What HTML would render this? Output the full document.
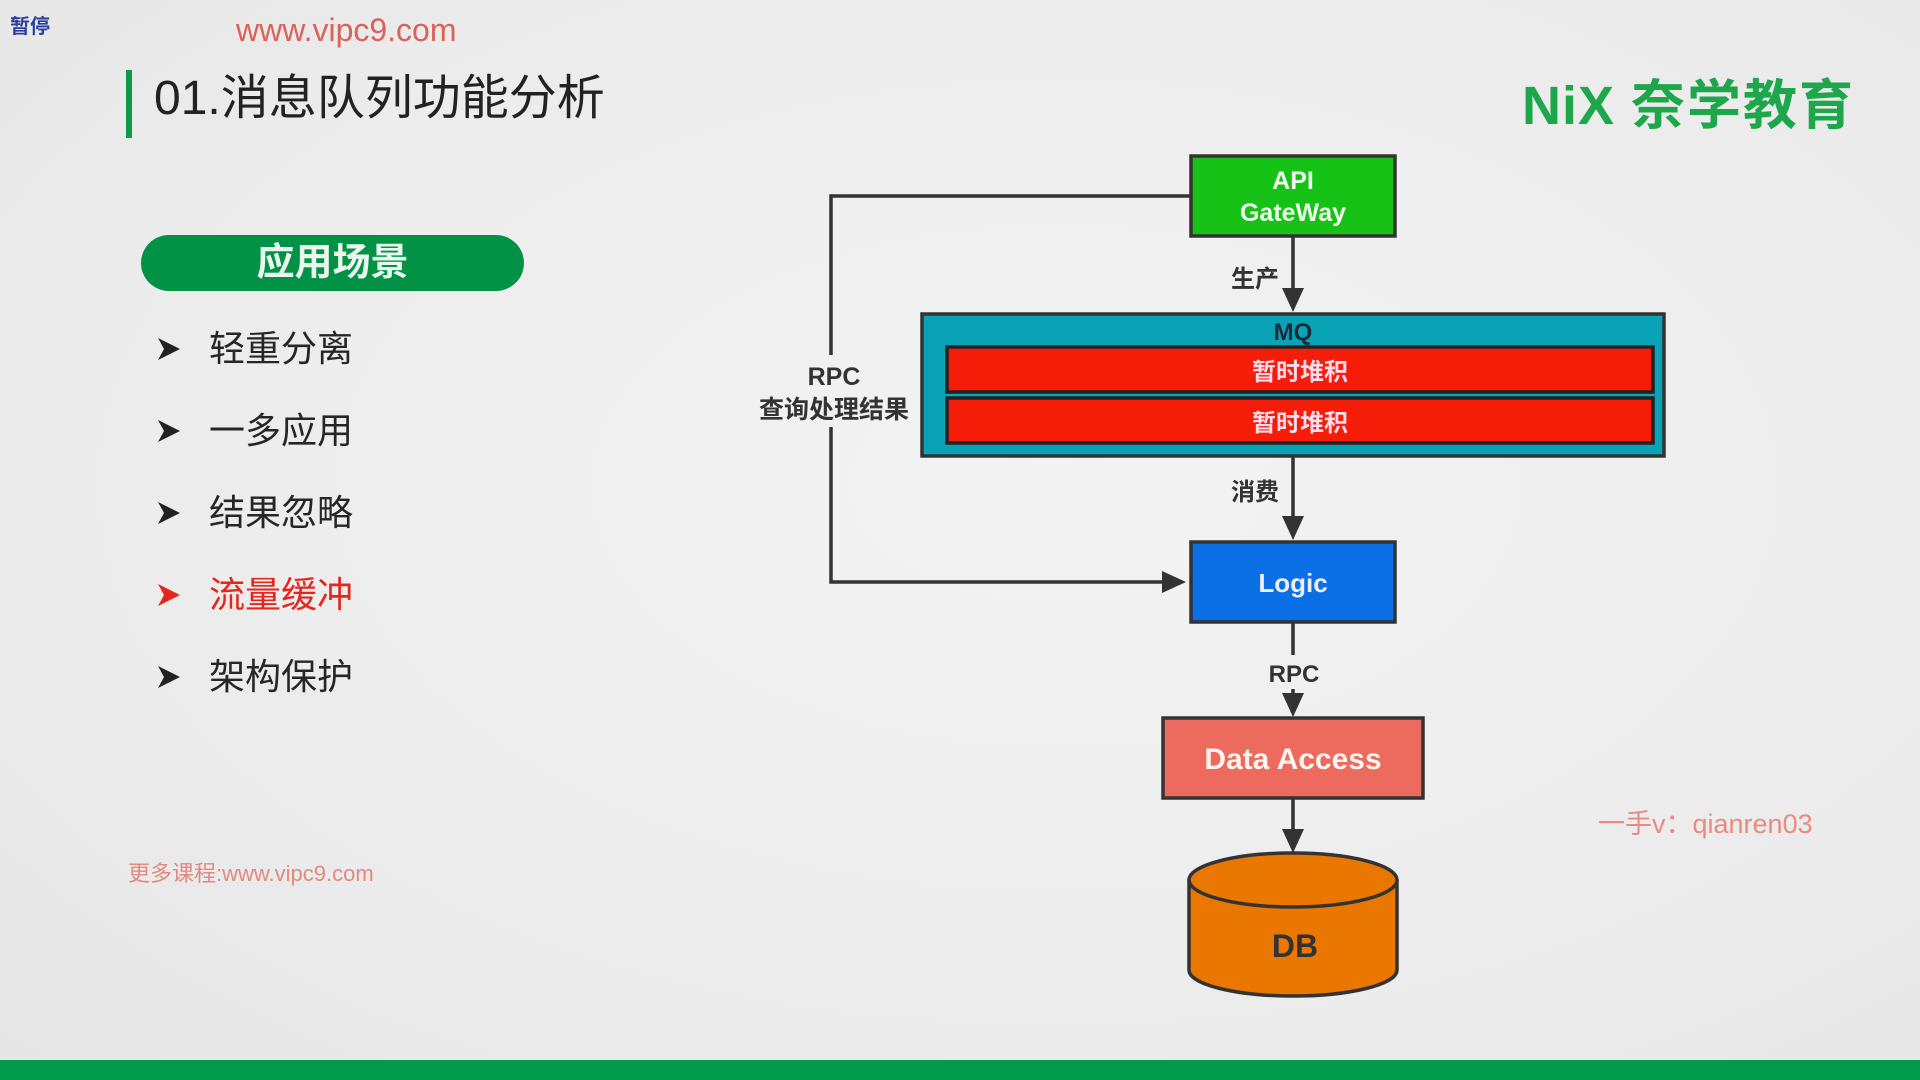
<!DOCTYPE html>
<html><head><meta charset="utf-8"><style>
html,body{margin:0;padding:0;}
body{width:1920px;height:1080px;position:relative;overflow:hidden;background:radial-gradient(ellipse at 55% 45%,#f3f3f3 0%,#ececec 60%,#e6e6e6 100%);font-family:"Liberation Sans","Noto Sans CJK SC",sans-serif;}
.a{position:absolute;white-space:nowrap;}
.li{font-size:36px;color:#262626;left:209px;line-height:40px;}
.ar{left:156px;width:26px;height:26px;}
</style></head><body>
<div class="a" style="left:10px;top:10px;font-size:20px;font-weight:bold;color:#2a3ea0;">暂停</div>
<div class="a" style="left:236px;top:12px;font-size:32px;color:#d9625a;">www.vipc9.com</div>
<div class="a" style="left:126px;top:70px;width:6px;height:68px;background:#0e9a4a;"></div>
<div class="a" style="left:154px;top:71px;font-size:48px;color:#222;line-height:56px;">01.消息队列功能分析</div>
<div class="a" style="left:1522px;top:76px;font-size:54px;font-weight:bold;color:#1ea74a;line-height:60px;letter-spacing:1px;">NiX <span style="letter-spacing:2px">奈学教育</span></div>
<div class="a" style="left:141px;top:235px;width:383px;height:56px;border-radius:28px;background:#019245;color:#eaf7ee;font-size:38px;font-weight:bold;text-align:center;line-height:56px;">应用场景</div>

<svg class="a ar" style="top:336px" viewBox="0 0 26 26"><path d="M2 2 L24 13 L2 24 L8 13Z" fill="#222"/></svg>
<div class="a li" style="top:329px">轻重分离</div>
<svg class="a ar" style="top:418px" viewBox="0 0 26 26"><path d="M2 2 L24 13 L2 24 L8 13Z" fill="#222"/></svg>
<div class="a li" style="top:411px">一多应用</div>
<svg class="a ar" style="top:500px" viewBox="0 0 26 26"><path d="M2 2 L24 13 L2 24 L8 13Z" fill="#222"/></svg>
<div class="a li" style="top:493px">结果忽略</div>
<svg class="a ar" style="top:582px" viewBox="0 0 26 26"><path d="M2 2 L24 13 L2 24 L8 13Z" fill="#e5261c"/></svg>
<div class="a li" style="top:575px;color:#e5261c">流量缓冲</div>
<svg class="a ar" style="top:664px" viewBox="0 0 26 26"><path d="M2 2 L24 13 L2 24 L8 13Z" fill="#222"/></svg>
<div class="a li" style="top:657px">架构保护</div>

<div class="a" style="left:128px;top:856px;font-size:22px;color:#e08a80;">更多课程:www.vipc9.com</div>
<div class="a" style="left:1598px;top:802px;font-size:27px;color:#ea8a80;">一手v：qianren03</div>
<div class="a" style="left:0;top:1060px;width:1920px;height:20px;background:#019c4b;"></div>

<svg class="a" style="left:0;top:0" width="1920" height="1080" font-family="Liberation Sans, Noto Sans CJK SC, sans-serif" font-weight="bold">
<g stroke="#333" stroke-width="3.5" fill="none">
<path d="M1191 196 H831 V355 M831 427 V582 H1170"/>
<path d="M1293 236 V292"/>
<path d="M1293 457 V520"/>
<path d="M1293 622 V655 M1293 689 V697"/>
<path d="M1293 798 V833"/>
</g>
<g fill="#333">
<path d="M1186 582 L1162 571 L1162 593Z"/>
<path d="M1293 312 L1282 288 L1304 288Z"/>
<path d="M1293 540 L1282 516 L1304 516Z"/>
<path d="M1293 717 L1282 693 L1304 693Z"/>
<path d="M1293 853 L1282 829 L1304 829Z"/>
</g>
<text x="834" y="385" font-size="25" text-anchor="middle" fill="#333">RPC</text>
<text x="834" y="418" font-size="25" text-anchor="middle" fill="#333">查询处理结果</text>
<text x="1255" y="287" font-size="24" text-anchor="middle" fill="#333">生产</text>
<text x="1255" y="500" font-size="24" text-anchor="middle" fill="#333">消费</text>
<text x="1294" y="682" font-size="24" text-anchor="middle" fill="#333">RPC</text>

<rect x="1191" y="156" width="204" height="80" fill="#16c216" stroke="#333" stroke-width="3.5"/>
<text x="1293" y="189" font-size="25" text-anchor="middle" fill="#f0fff0">API</text>
<text x="1293" y="221" font-size="25" text-anchor="middle" fill="#f0fff0">GateWay</text>

<rect x="922" y="314" width="742" height="142" fill="#0aa3b5" stroke="#333" stroke-width="3.5"/>
<text x="1293" y="340" font-size="24" text-anchor="middle" fill="#1a2a3a">MQ</text>
<rect x="947" y="347" width="706" height="45" fill="#f51c08" stroke="#222" stroke-width="3.5"/>
<text x="1300" y="380" font-size="24" text-anchor="middle" fill="#fde">暂时堆积</text>
<rect x="947" y="398" width="706" height="45" fill="#f51c08" stroke="#222" stroke-width="3.5"/>
<text x="1300" y="431" font-size="24" text-anchor="middle" fill="#fde">暂时堆积</text>

<rect x="1191" y="542" width="204" height="80" fill="#0b6fe6" stroke="#333" stroke-width="3.5"/>
<text x="1293" y="592" font-size="26" text-anchor="middle" fill="#eef">Logic</text>

<rect x="1163" y="718" width="260" height="80" fill="#ec6a5e" stroke="#333" stroke-width="3.5"/>
<text x="1293" y="769" font-size="30" text-anchor="middle" fill="#fff4ee">Data Access</text>

<path d="M1189 880 V970 A104 26 0 0 0 1397 970 V880" fill="#ea7800" stroke="#333" stroke-width="3.5"/>
<ellipse cx="1293" cy="880" rx="104" ry="27" fill="#ea7800" stroke="#333" stroke-width="3.5"/>
<text x="1295" y="957" font-size="32" text-anchor="middle" fill="#333">DB</text>
</svg>
</body></html>
